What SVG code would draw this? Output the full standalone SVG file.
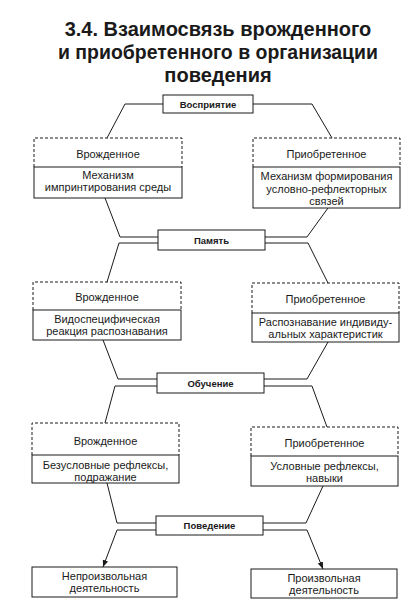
<svg xmlns="http://www.w3.org/2000/svg" width="417" height="610" viewBox="0 0 417 610">
<defs>
<marker id="arr" viewBox="0 0 10 10" refX="10" refY="5" markerWidth="7" markerHeight="7" orient="auto" markerUnits="userSpaceOnUse">
<path d="M0,1 L10,5 L0,9 Z" fill="#1a1a1a"/>
</marker>
</defs>
<style>
.title{font-family:"Liberation Sans",Arial,sans-serif;font-weight:bold;font-size:20px;fill:#1a1a1a;text-anchor:middle}
.t{font-family:"Liberation Sans",Arial,sans-serif;font-size:11px;fill:#1a1a1a;text-anchor:middle}
.b{font-family:"Liberation Sans",Arial,sans-serif;font-weight:bold;font-size:9.5px;fill:#1a1a1a;text-anchor:middle}
.box{fill:#fff;stroke:#1a1a1a;stroke-width:1}
.dash{fill:none;stroke:#1a1a1a;stroke-width:1;stroke-dasharray:3,2}
.ln{fill:none;stroke:#1a1a1a;stroke-width:1}
</style>
<rect width="417" height="610" fill="#fff"/>
<g id="title">
<text class="title" x="218" y="36">3.4. Взаимосвязь врожденного</text>
<text class="title" x="218" y="59" textLength="320" lengthAdjust="spacingAndGlyphs">и приобретенного в организации</text>
<text class="title" x="218" y="82">поведения</text>
</g>
<g id="connectors">
<polyline class="ln" points="163,104 125,104 107,138"/>
<polyline class="ln" points="253,104 312,104 332,138"/>
<polyline class="ln" points="105,198 120,237 158,237"/>
<polyline class="ln" points="158,243 119,243 107,282"/>
<polyline class="ln" points="328,208 307,237 265,237"/>
<polyline class="ln" points="265,243 308,243 328,283"/>
<polyline class="ln" points="103,340 118,379 157,379"/>
<polyline class="ln" points="157,386 115,386 105,423"/>
<polyline class="ln" points="328,342 307,379 264,379"/>
<polyline class="ln" points="264,386 312,386 327,427"/>
<polyline class="ln" points="107,483 117,523 156,523"/>
<polyline class="ln" points="323,486 306,523 263,523"/>
<polyline class="ln" points="156,530 117,530 103,567" marker-end="url(#arr)"/>
<polyline class="ln" points="263,530 307,530 323,569" marker-end="url(#arr)"/>
</g>
<g id="n-vospriyatie">
<rect class="box" x="163" y="95" width="90" height="18"/>
<text class="b" x="208" y="107.5">Восприятие</text>
</g>
<g id="n-innate-1">
<path class="dash" d="M34,167 V138 H182 V167"/>
<text class="t" x="108" y="158">Врожденное</text>
<rect class="box" x="34" y="167" width="148" height="31"/>
<text class="t" x="108" y="179">Механизм</text>
<text class="t" x="108" y="191">импринтирования среды</text>
</g>
<g id="n-acquired-1">
<path class="dash" d="M253,167 V138 H400 V167"/>
<text class="t" x="326.5" y="158">Приобретенное</text>
<rect class="box" x="253" y="167" width="147" height="41"/>
<text class="t" x="326.5" y="180">Механизм формирования</text>
<text class="t" x="326.5" y="193">условно-рефлекторных</text>
<text class="t" x="326.5" y="205">связей</text>
</g>
<g id="n-pamyat">
<rect class="box" x="158" y="230" width="107" height="20"/>
<text class="b" x="211.5" y="243.5">Память</text>
</g>
<g id="n-innate-2">
<path class="dash" d="M33,310 V282 H181 V310"/>
<text class="t" x="107" y="300.5">Врожденное</text>
<rect class="box" x="33" y="310" width="148" height="30"/>
<text class="t" x="107" y="323">Видоспецифическая</text>
<text class="t" x="107" y="335">реакция распознавания</text>
</g>
<g id="n-acquired-2">
<path class="dash" d="M252,313 V283 H399 V313"/>
<text class="t" x="325.5" y="302.5">Приобретенное</text>
<rect class="box" x="252" y="313" width="147" height="29"/>
<text class="t" x="325.5" y="326">Распознавание индивиду-</text>
<text class="t" x="325.5" y="338">альных характеристик</text>
</g>
<g id="n-obuchenie">
<rect class="box" x="157" y="373" width="107" height="20"/>
<text class="b" x="210.5" y="386.5">Обучение</text>
</g>
<g id="n-innate-3">
<path class="dash" d="M32,455 V423 H179 V455"/>
<text class="t" x="105.5" y="444.5">Врожденное</text>
<rect class="box" x="32" y="455" width="147" height="28"/>
<text class="t" x="105.5" y="469">Безусловные рефлексы,</text>
<text class="t" x="105.5" y="481">подражание</text>
</g>
<g id="n-acquired-3">
<path class="dash" d="M251,456 V427 H398 V456"/>
<text class="t" x="324.5" y="446.5">Приобретенное</text>
<rect class="box" x="251" y="456" width="147" height="30"/>
<text class="t" x="324.5" y="470">Условные рефлексы,</text>
<text class="t" x="324.5" y="482">навыки</text>
</g>
<g id="n-povedenie">
<rect class="box" x="156" y="516" width="107" height="19"/>
<text class="b" x="209.5" y="529">Поведение</text>
</g>
<g id="n-involuntary">
<rect class="box" x="32" y="567" width="145" height="30"/>
<text class="t" x="104.5" y="580">Непроизвольная</text>
<text class="t" x="104.5" y="592">деятельность</text>
</g>
<g id="n-voluntary">
<rect class="box" x="251" y="569" width="146" height="29"/>
<text class="t" x="324" y="582">Произвольная</text>
<text class="t" x="324" y="594">деятельность</text>
</g>
</svg>
